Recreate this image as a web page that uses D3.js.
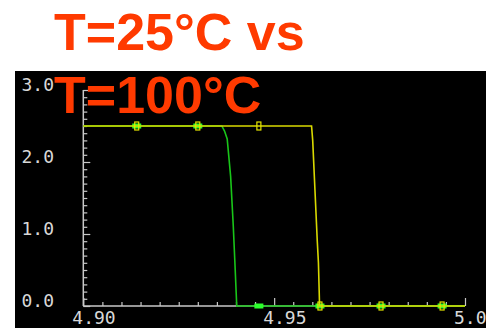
<!DOCTYPE html>
<html>
<head>
<meta charset="utf-8">
<script src="https://cdn.jsdelivr.net/npm/d3@7"></script>
<style>
  html, body { margin: 0; padding: 0; background: #fff; }
  svg { display: block; }
</style>
</head>
<body>
<div id="chart"></div>
<script>
// data
var titleLines = ["T=25\u00b0C vs", "T=100\u00b0C"];
var xTicks = [4.90, 4.95, 5.0];
var xTickLabels = ["4.90", "4.95", "5.0"];
var yTicks = [0, 1, 2, 3];
var yTickLabels = ["0.0", "1.0", "2.0", "3.0"];
// green trace (T=100°C)
var greenX = [4.900, 4.9363, 4.9370, 4.9377, 4.9386, 4.9393, 4.9398, 4.9402, 5.000];
var greenY = [2.5, 2.5, 2.43, 2.32, 1.8, 1.1, 0.5, 0.0, 0.0];
// yellow trace (T=25°C)
var yellowX = [4.900, 4.9598, 4.9601, 4.9607, 4.9613, 4.9616, 4.9618, 4.9619, 5.000];
var yellowY = [2.5, 2.5, 2.3, 1.6, 0.9, 0.6, 0.2, 0.0, 0.0];
// marker positions shared by both traces
var markerX = [4.914, 4.930, 4.946, 4.962, 4.978, 4.994];

var width = 486, height = 328;
var svg = d3.select("#chart").append("svg")
    .attr("width", width)
    .attr("height", height);

// black plot panel
svg.append("rect")
    .attr("x", 15).attr("y", 71)
    .attr("width", width - 15).attr("height", height - 71)
    .attr("fill", "#000");

var x = d3.scaleLinear().domain([4.90, 5.0]).range([83.3, 465]);
var y = d3.scaleLinear().domain([0, 3]).range([306, 90]);

var axisColor = "#c8c8c8";
var g = svg.append("g");

// x axis: ticks pointing up, every 0.005
var xAxis = d3.axisTop(x)
    .tickValues(d3.range(0, 21).map(function (i) { return 4.90 + i * 0.005; }))
    .tickSize(4).tickFormat("");
g.append("g").attr("transform", "translate(0," + y(0) + ")").call(xAxis)
    .call(function (s) {
        s.select(".domain").attr("stroke", axisColor).attr("stroke-width", 1.5).attr("d", "M" + x(4.90) + ",0H" + x(5.0));
        s.selectAll(".tick line").attr("stroke", axisColor).attr("stroke-width", 1.2)
            .attr("y2", function (d) { return Math.abs(d * 100 - Math.round(d * 20) * 5) < 1e-6 ? -8 : -4; });
    });

// y axis: ticks pointing right, every 0.1
var yAxis = d3.axisRight(y)
    .tickValues(d3.range(0, 31).map(function (i) { return i * 0.1; }))
    .tickSize(4).tickFormat("");
g.append("g").attr("transform", "translate(" + x(4.90) + ",0)").call(yAxis)
    .call(function (s) {
        s.select(".domain").attr("stroke", axisColor).attr("stroke-width", 1.5).attr("d", "M0," + y(0) + "V" + y(3));
        s.selectAll(".tick line").attr("stroke", axisColor).attr("stroke-width", 1.2)
            .attr("x2", function (d) { return Math.abs(d * 10 - Math.round(d) * 10) < 1e-6 ? 7 : 4; });
    });

// tick labels
var labelFont = "'DejaVu Sans Mono', 'Liberation Mono', monospace";
g.selectAll(".xlab").data(xTicks).enter().append("text")
    .attr("x", function (d) { return x(d) - 11; })
    .attr("y", 324)
    .attr("fill", "#d8d8d8")
    .style("font-family", labelFont).style("font-size", "18px")
    .text(function (d, i) { return xTickLabels[i]; });
g.selectAll(".ylab").data(yTicks).enter().append("text")
    .attr("x", 54)
    .attr("y", function (d) { return y(d) + 1; })
    .attr("text-anchor", "end")
    .attr("fill", "#d8d8d8")
    .style("font-family", labelFont).style("font-size", "18px")
    .text(function (d, i) { return yTickLabels[i]; });

var line = d3.line()
    .x(function (d) { return x(d[0]); })
    .y(function (d) { return y(d[1]); });

var greenPts = d3.zip(greenX, greenY);
var yellowPts = d3.zip(yellowX, yellowY);

function valueAt(xs, ys, v) {
    for (var i = 1; i < xs.length; i++) {
        if (v <= xs[i]) {
            var t = (v - xs[i - 1]) / (xs[i] - xs[i - 1]);
            return ys[i - 1] + t * (ys[i] - ys[i - 1]);
        }
    }
    return ys[ys.length - 1];
}

// green trace
g.append("path").attr("d", line(greenPts))
    .attr("fill", "none").attr("stroke", "#19c519").attr("stroke-width", 1.6);
g.selectAll(".gmark").data(markerX).enter().append("rect")
    .attr("x", function (d) { return x(d) - 4.5; })
    .attr("y", function (d) { return y(valueAt(greenX, greenY, d)) - 2.5; })
    .attr("width", 9).attr("height", 5)
    .attr("fill", "#2cff2c");

// yellow trace
g.append("path").attr("d", line(yellowPts))
    .attr("fill", "none").attr("stroke", "#d9d900").attr("stroke-width", 1.6);
g.selectAll(".ymark").data(markerX).enter().append("rect")
    .attr("x", function (d) { return x(d) - 2; })
    .attr("y", function (d) { return y(valueAt(yellowX, yellowY, d)) - 4; })
    .attr("width", 4).attr("height", 8)
    .attr("fill", "none").attr("stroke", "#e6e600").attr("stroke-width", 1.2);

// title over the plot
svg.selectAll(".title").data(titleLines).enter().append("text")
    .attr("x", 54)
    .attr("y", function (d, i) { return [50, 113][i]; })
    .attr("fill", "#ff3a00")
    .style("font-family", "'Liberation Sans', Arial, sans-serif")
    .style("font-weight", "bold")
    .style("font-size", "52px")
    .text(function (d) { return d; });
</script>
</body>
</html>
